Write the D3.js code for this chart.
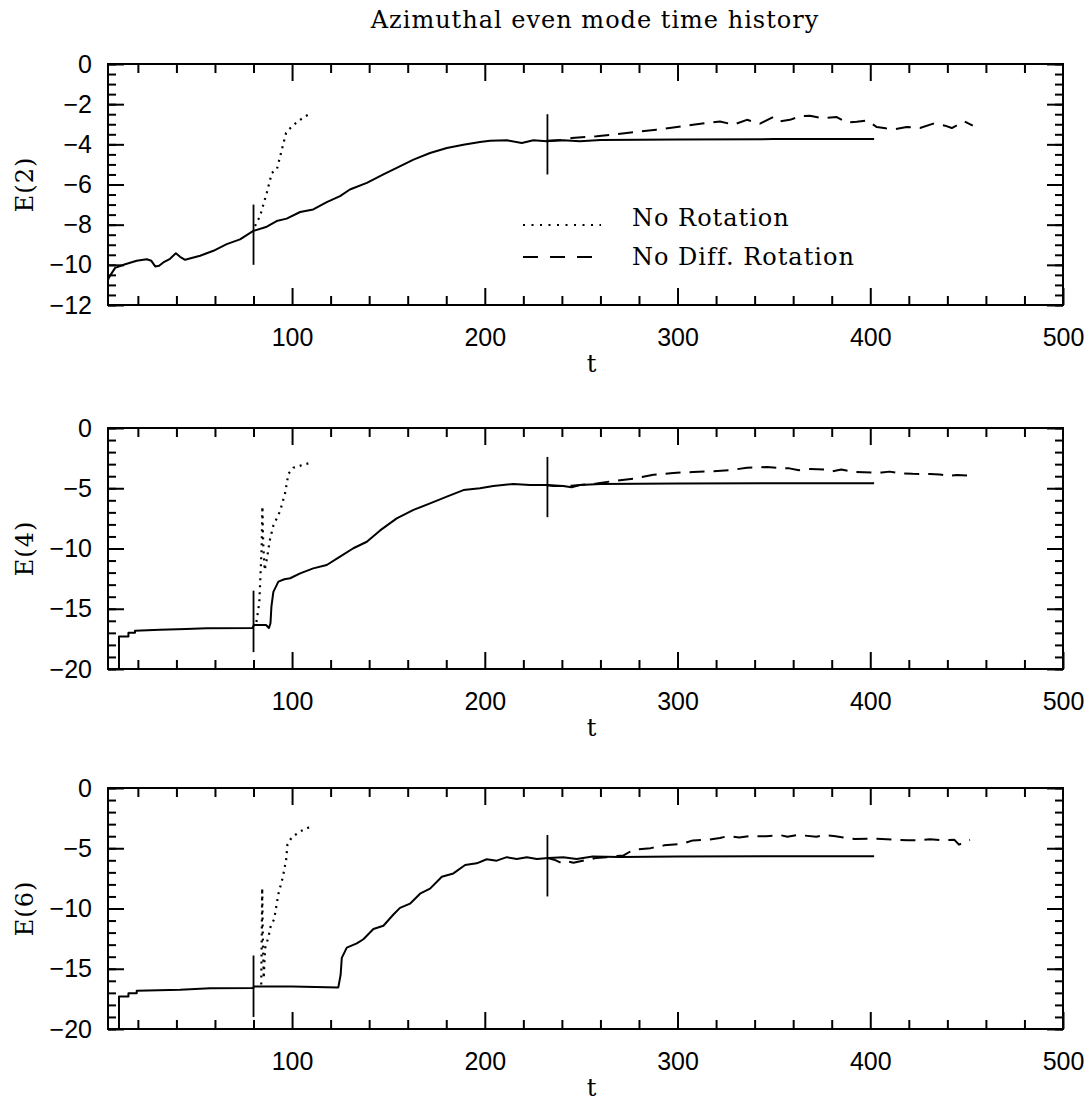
<!DOCTYPE html>
<html>
<head>
<meta charset="utf-8">
<script src="https://cdn.jsdelivr.net/npm/d3@7"></script>
<style>
  body { margin: 0; background: #fff; }
  .tick text { font-family: "Liberation Sans", Arial, sans-serif; font-size: 25px; fill: #000; }
  .tick line { stroke: #000; stroke-width: 2; }
  .serif { font-family: "DejaVu Serif", serif; font-size: 24px; letter-spacing: 1px; fill: #000; }
</style>
</head>
<body>
<div id="chart"></div>
<script>
// time axis
var tDomain = [4.5, 500];
var tMajor = [100, 200, 300, 400, 500];
var tMinor = d3.range(20, 500, 20).filter(d => d % 100 !== 0);

// E(2)
var e2Main = [[4.5,-10.75],[5.2,-10.6],[8.2,-10.15],[13.4,-9.97],[19.4,-9.8],[24.6,-9.72],[27,-9.8],[29,-10.08],[31,-10.05],[33.2,-9.88],[36.7,-9.7],[39.7,-9.42],[41.9,-9.6],[44.5,-9.75],[52.3,-9.55],[59.2,-9.3],[66.1,-8.97],[73,-8.73],[79.9,-8.31],[86.9,-8.1],[92,-7.82],[97.2,-7.7],[104.2,-7.37],[111,-7.24],[118,-6.88],[124.9,-6.58],[130,-6.25],[138.8,-5.92],[147.4,-5.5],[154.3,-5.17],[163,-4.76],[171.6,-4.43],[180.3,-4.18],[188.9,-4.02],[197.5,-3.88],[202.7,-3.82],[211.4,-3.8],[219.2,-3.93],[225.2,-3.8],[232.1,-3.85],[240.7,-3.8],[249.4,-3.85],[260,-3.78],[300,-3.76],[350,-3.74],[402,-3.74]];
var e2NoRot = [[80.8,-8.07],[83.4,-7.57],[86.9,-6.41],[89.5,-5.42],[92.1,-5.26],[94.7,-4.26],[96.9,-3.44],[99.8,-3.11],[104.2,-2.78],[107,-2.6],[110.2,-2.44]];
var e2NoDiff = [[232,-3.82],[240,-3.78],[245,-3.69],[258,-3.6],[266.7,-3.52],[277,-3.4],[289,-3.27],[297.8,-3.16],[308,-3.02],[315,-2.94],[322,-2.86],[329,-3.02],[336,-2.78],[342.8,-2.97],[349.7,-2.64],[353,-2.86],[358.3,-2.78],[363.6,-2.6],[368.7,-2.58],[375,-2.7],[382.6,-2.64],[387.8,-2.91],[393,-2.88],[398.2,-2.81],[403.4,-3.14],[408,-3.2],[412.8,-3.24],[418.9,-3.14],[425.8,-3.19],[432.7,-2.97],[438.8,-3.07],[442.3,-3.19],[448.9,-2.86],[453.2,-3.07]];
var e2Marks = [[80,-7,-10],[232.5,-2.5,-5.5]];

// E(4)
var e4Main = [[10.2,-20],[10.2,-17.3],[15.1,-17.3],[15.1,-17.0],[18.5,-17.0],[18.5,-16.82],[31.5,-16.75],[45,-16.68],[55.7,-16.62],[79.5,-16.6],[80.2,-16.35],[86.5,-16.35],[88,-16.6],[88.8,-16.2],[89.3,-14.8],[90.3,-13.6],[92.9,-12.75],[96,-12.55],[99,-12.47],[104.2,-12.06],[111,-11.65],[118,-11.37],[124.9,-10.68],[131.8,-9.98],[138.8,-9.44],[145.7,-8.5],[154.3,-7.5],[163,-6.8],[171.6,-6.25],[180.3,-5.7],[188.9,-5.15],[197.5,-5.0],[204.4,-4.81],[214.8,-4.65],[223.4,-4.73],[232.1,-4.73],[240.7,-4.81],[245,-4.92],[249.4,-4.73],[260,-4.65],[300,-4.6],[350,-4.58],[402,-4.58]];
var e4NoRot = [[81.5,-16.1],[83,-14.5],[84.2,-10],[84.6,-6.5],[85,-9.5],[85.8,-11.8],[87,-10.8],[88.6,-9.2],[90.3,-8.1],[93.8,-6.9],[96.4,-5.4],[98.1,-3.8],[100.7,-3.3],[105.9,-3.05],[110.2,-2.85]];
var e4NoDiff = [[232,-4.75],[236,-4.81],[245,-4.8],[258,-4.6],[266.7,-4.4],[277,-4.2],[287.5,-3.88],[297.8,-3.73],[308,-3.65],[318.6,-3.58],[327.3,-3.5],[336,-3.3],[346.5,-3.23],[352,-3.3],[358,-3.35],[363,-3.5],[369,-3.4],[376,-3.45],[380,-3.6],[385,-3.45],[392,-3.65],[401,-3.7],[406,-3.7],[410,-3.62],[415,-3.75],[422,-3.8],[431,-3.82],[436,-3.85],[441,-3.98],[445,-3.9],[452,-3.96],[454,-3.98]];
var e4Marks = [[80,-13.5,-18.6],[232.5,-2.4,-7.4]];

// E(6)
var e6Main = [[10.2,-20],[10.2,-17.3],[15.1,-17.3],[15.1,-17.03],[19.4,-17.03],[19.4,-16.83],[41.9,-16.75],[57.5,-16.62],[79.9,-16.6],[80.2,-16.47],[100,-16.47],[124,-16.55],[125.2,-15.5],[125.8,-14.1],[128.4,-13.25],[133.6,-12.9],[137,-12.55],[142.2,-11.7],[147.4,-11.43],[152.6,-10.5],[156,-9.95],[161.2,-9.6],[166.4,-8.77],[171.6,-8.35],[177.7,-7.37],[183.7,-7.09],[189.8,-6.39],[195.8,-6.25],[201,-5.91],[206.2,-6.03],[211.4,-5.74],[216.6,-5.9],[221.8,-5.74],[227,-5.9],[233,-5.8],[240.7,-5.74],[247.6,-5.9],[256,-5.69],[270,-5.72],[300,-5.68],[350,-5.66],[402,-5.66]];
var e6NoRot = [[84,-16.3],[84.3,-12],[84.5,-8.3],[84.8,-12],[85.3,-15.8],[86,-13.3],[87.7,-12.4],[89,-11.4],[90.7,-10.9],[92.9,-8.8],[95.2,-7.4],[96.9,-6.0],[97.6,-4.7],[99.8,-4.1],[104.2,-3.6],[111,-3.1]];
var e6NoDiff = [[232,-5.8],[236,-5.95],[240,-6.25],[243,-6.1],[246,-6.2],[252,-5.99],[258,-5.8],[263,-5.75],[268,-5.65],[272,-5.6],[277,-5.13],[286,-4.99],[293,-4.76],[302,-4.65],[308,-4.35],[316,-4.29],[322,-4.15],[326,-4.0],[332,-4.1],[337,-4.0],[346,-4.0],[353,-3.9],[357,-4.05],[362,-3.9],[366,-3.95],[372,-4.05],[376,-3.9],[382,-4.0],[386,-4.1],[392,-4.23],[399,-4.2],[406,-4.23],[413,-4.3],[419.5,-4.34],[426,-4.32],[431,-4.25],[436,-4.32],[443.7,-4.3],[446,-4.7],[449,-4.5],[451.7,-4.3]];
var e6Marks = [[80,-13.9,-19],[232.5,-3.9,-9]];

var legendLabels = ["No Rotation", "No Diff. Rotation"];

var W = 1091, H = 1104;
var left = 108, right = 1063, ph = 241;

var panels = [
    { label: "E(2)", top: 64, yDomain: [-12, 0], yMajor: d3.range(0, -13, -2), yMinor: d3.range(0, -12.01, -0.5), main: e2Main, noRot: e2NoRot, noDiff: e2NoDiff, marks: e2Marks },
    { label: "E(4)", top: 428, yDomain: [-20, 0], yMajor: d3.range(0, -21, -5), yMinor: d3.range(0, -20.01, -1), main: e4Main, noRot: e4NoRot, noDiff: e4NoDiff, marks: e4Marks },
    { label: "E(6)", top: 788, yDomain: [-20, 0], yMajor: d3.range(0, -21, -5), yMinor: d3.range(0, -20.01, -1), main: e6Main, noRot: e6NoRot, noDiff: e6NoDiff, marks: e6Marks }
];

var dotStyle = "2,5";
var dashStyle = "15,9";

var svg = d3.select("#chart").append("svg")
    .attr("width", W)
    .attr("height", H);

svg.append("text")
    .attr("class", "serif")
    .attr("x", 595)
    .attr("y", 28)
    .attr("text-anchor", "middle")
    .text("Azimuthal even mode time history");

var x = d3.scaleLinear().domain(tDomain).range([left, right]);

panels.forEach(function (p, i) {
    var g = svg.append("g").attr("transform", `translate(0,${p.top})`);
    var y = d3.scaleLinear().domain(p.yDomain).range([ph, 0]);
    var noDomain = a => a.select(".domain").remove();

    // bottom ticks + labels
    g.append("g").attr("transform", `translate(0,${ph})`)
        .call(d3.axisBottom(x).tickValues(tMinor).tickSize(-9).tickFormat("")).call(noDomain);
    g.append("g").attr("transform", `translate(0,${ph})`)
        .call(d3.axisBottom(x).tickValues(tMajor).tickSize(-17).tickPadding(23).tickFormat(d3.format("d"))).call(noDomain);
    // top ticks
    g.append("g")
        .call(d3.axisTop(x).tickValues(tMinor).tickSize(-9).tickFormat("")).call(noDomain);
    g.append("g")
        .call(d3.axisTop(x).tickValues(tMajor.slice(0, -1)).tickSize(-17).tickFormat("")).call(noDomain);
    // left ticks + labels
    g.append("g").attr("transform", `translate(${left},0)`)
        .call(d3.axisLeft(y).tickValues(p.yMinor).tickSize(-8).tickFormat("")).call(noDomain);
    g.append("g").attr("transform", `translate(${left},0)`)
        .call(d3.axisLeft(y).tickValues(p.yMajor).tickSize(-16).tickPadding(16).tickFormat(d3.format("d"))).call(noDomain);
    // right ticks
    g.append("g").attr("transform", `translate(${right},0)`)
        .call(d3.axisRight(y).tickValues(p.yMinor).tickSize(-8).tickFormat("")).call(noDomain);
    g.append("g").attr("transform", `translate(${right},0)`)
        .call(d3.axisRight(y).tickValues(p.yMajor).tickSize(-16).tickFormat("")).call(noDomain);

    g.selectAll(".tick text").attr("fill", "#000");

    g.append("rect")
        .attr("x", left).attr("y", 0)
        .attr("width", right - left).attr("height", ph)
        .attr("fill", "none").attr("stroke", "#000").attr("stroke-width", 2);

    var line = d3.line().x(d => x(d[0])).y(d => y(d[1]));

    g.append("path").datum(p.main)
        .attr("fill", "none").attr("stroke", "#000").attr("stroke-width", 2)
        .attr("stroke-linejoin", "round").attr("d", line);
    g.append("path").datum(p.noRot)
        .attr("fill", "none").attr("stroke", "#000").attr("stroke-width", 2.2)
        .attr("stroke-dasharray", dotStyle).attr("d", line);
    g.append("path").datum(p.noDiff)
        .attr("fill", "none").attr("stroke", "#000").attr("stroke-width", 2)
        .attr("stroke-dasharray", dashStyle).attr("stroke-linejoin", "round").attr("d", line);

    g.selectAll(".mark").data(p.marks).enter().append("line")
        .attr("x1", d => x(d[0])).attr("x2", d => x(d[0]))
        .attr("y1", d => y(d[1])).attr("y2", d => y(d[2]))
        .attr("stroke", "#000").attr("stroke-width", 1.8);

    g.append("text")
        .attr("class", "serif")
        .attr("transform", `translate(33,${ph / 2}) rotate(-90)`)
        .attr("text-anchor", "middle")
        .text(p.label);

    g.append("text")
        .attr("class", "serif")
        .attr("x", 592)
        .attr("y", ph + 67)
        .attr("text-anchor", "middle")
        .text("t");

    if (i === 0) {
        var lg = g.append("g");
        lg.append("line").attr("x1", 523).attr("x2", 601).attr("y1", 161).attr("y2", 161)
            .attr("stroke", "#000").attr("stroke-width", 2.2).attr("stroke-dasharray", "2,6.5");
        lg.append("line").attr("x1", 523).attr("x2", 593).attr("y1", 193).attr("y2", 193)
            .attr("stroke", "#000").attr("stroke-width", 2).attr("stroke-dasharray", "15,12");
        lg.append("text").attr("class", "serif").attr("x", 632).attr("y", 162).text(legendLabels[0]);
        lg.append("text").attr("class", "serif").attr("x", 632).attr("y", 201).text(legendLabels[1]);
    }
});
</script>
</body>
</html>
